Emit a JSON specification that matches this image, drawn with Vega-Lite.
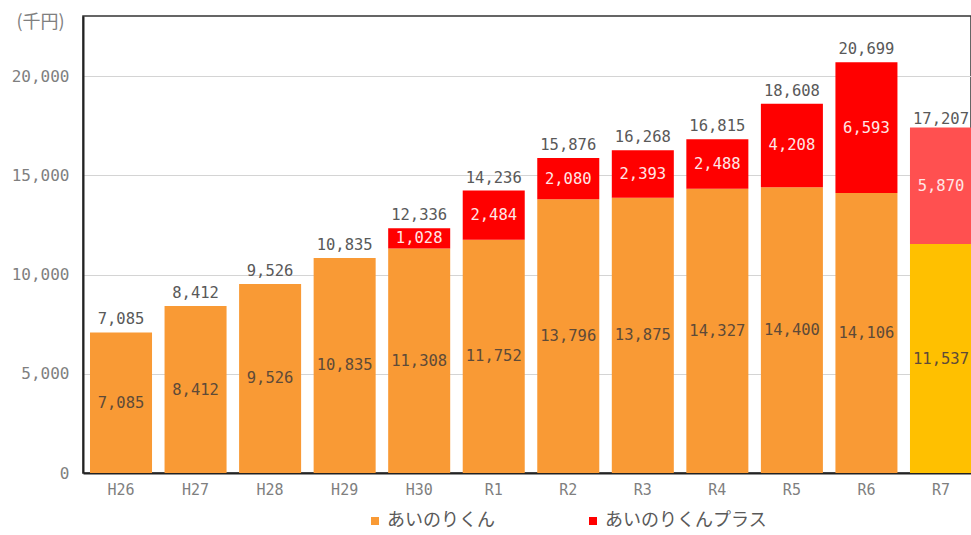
{
  "$schema": "https://vega.github.io/schema/vega-lite/v6.json",
  "width": 888,
  "height": 457,
  "autosize": {"type": "none"},
  "padding": {"left": 83, "top": 16, "right": 0, "bottom": 62},
  "background": "#ffffff",
  "view": {"stroke": "#333333", "strokeWidth": 1.5},
  "datasets": {
    "seg": [
      {"year": "H26", "series": "あいのりくん", "shade": "あいのりくん", "o": 1, "value": 7085},
      {"year": "H27", "series": "あいのりくん", "shade": "あいのりくん", "o": 1, "value": 8412},
      {"year": "H28", "series": "あいのりくん", "shade": "あいのりくん", "o": 1, "value": 9526},
      {"year": "H29", "series": "あいのりくん", "shade": "あいのりくん", "o": 1, "value": 10835},
      {"year": "H30", "series": "あいのりくん", "shade": "あいのりくん", "o": 1, "value": 11308},
      {"year": "H30", "series": "あいのりくんプラス", "shade": "あいのりくんプラス", "o": 2, "value": 1028},
      {"year": "R1", "series": "あいのりくん", "shade": "あいのりくん", "o": 1, "value": 11752},
      {"year": "R1", "series": "あいのりくんプラス", "shade": "あいのりくんプラス", "o": 2, "value": 2484},
      {"year": "R2", "series": "あいのりくん", "shade": "あいのりくん", "o": 1, "value": 13796},
      {"year": "R2", "series": "あいのりくんプラス", "shade": "あいのりくんプラス", "o": 2, "value": 2080},
      {"year": "R3", "series": "あいのりくん", "shade": "あいのりくん", "o": 1, "value": 13875},
      {"year": "R3", "series": "あいのりくんプラス", "shade": "あいのりくんプラス", "o": 2, "value": 2393},
      {"year": "R4", "series": "あいのりくん", "shade": "あいのりくん", "o": 1, "value": 14327},
      {"year": "R4", "series": "あいのりくんプラス", "shade": "あいのりくんプラス", "o": 2, "value": 2488},
      {"year": "R5", "series": "あいのりくん", "shade": "あいのりくん", "o": 1, "value": 14400},
      {"year": "R5", "series": "あいのりくんプラス", "shade": "あいのりくんプラス", "o": 2, "value": 4208},
      {"year": "R6", "series": "あいのりくん", "shade": "あいのりくん", "o": 1, "value": 14106},
      {"year": "R6", "series": "あいのりくんプラス", "shade": "あいのりくんプラス", "o": 2, "value": 6593},
      {"year": "R7", "series": "あいのりくん", "shade": "R7あいのりくん", "o": 1, "value": 11537},
      {"year": "R7", "series": "あいのりくんプラス", "shade": "R7あいのりくんプラス", "o": 2, "value": 5870}
    ],
    "tot": [
      {"year": "H26", "total": 7085},
      {"year": "H27", "total": 8412},
      {"year": "H28", "total": 9526},
      {"year": "H29", "total": 10835},
      {"year": "H30", "total": 12336},
      {"year": "R1", "total": 14236},
      {"year": "R2", "total": 15876},
      {"year": "R3", "total": 16268},
      {"year": "R4", "total": 16815},
      {"year": "R5", "total": 18608},
      {"year": "R6", "total": 20699},
      {"year": "R7", "total": 17207}
    ]
  },
  "encoding": {
    "x": {
      "field": "year",
      "type": "ordinal",
      "sort": ["H26","H27","H28","H29","H30","R1","R2","R3","R4","R5","R6","R7"],
      "scale": {"domain": ["H26","H27","H28","H29","H30","R1","R2","R3","R4","R5","R6","R7"], "range": [0, 896], "paddingInner": 0.168, "paddingOuter": 0.094},
      "axis": {
        "title": null,
        "labelAngle": 0,
        "ticks": false,
        "labelPadding": 9,
        "labelFont": "DejaVu Sans Mono",
        "labelFontSize": 15,
        "labelColor": "#7f7f7f",
        "domainColor": "#222222",
        "domainWidth": 2,
        "grid": false
      }
    }
  },
  "layer": [
    {
      "data": {"name": "seg"},
      "mark": {"type": "bar", "clip": true},
      "encoding": {
        "y": {
          "field": "value",
          "type": "quantitative",
          "stack": "zero",
          "scale": {"domain": [0, 23030], "nice": false, "zero": true},
          "axis": {
            "title": "(千円)",
            "titleAngle": 0,
            "titleX": -43,
            "titleY": 6,
            "titleAlign": "center",
            "titleBaseline": "middle",
            "titleFont": "Noto Sans CJK JP",
            "titleFontSize": 18,
            "titleFontWeight": "normal",
            "titleColor": "#7f7f7f",
            "values": [0, 5000, 10000, 15000, 20000],
            "format": ",d",
            "ticks": false,
            "labelPadding": 14,
            "labelFont": "DejaVu Sans Mono",
            "labelFontSize": 16,
            "labelColor": "#7f7f7f",
            "domainColor": "#222222",
            "domainWidth": 2,
            "grid": true,
            "gridColor": "#d4d4d4",
            "gridWidth": 1
          }
        },
        "color": {
          "field": "shade",
          "type": "nominal",
          "scale": {
            "domain": ["あいのりくん", "あいのりくんプラス", "R7あいのりくん", "R7あいのりくんプラス"],
            "range": ["#F99A35", "#FF0000", "#FFC000", "#FF5050"]
          },
          "legend": {
            "values": ["あいのりくん", "あいのりくんプラス"],
            "title": null,
            "orient": "none",
            "direction": "horizontal",
            "legendX": 283,
            "legendY": 496,
            "padding": 0,
            "symbolType": "square",
            "symbolSize": 64,
            "symbolStrokeWidth": 0,
            "labelFont": "Noto Sans CJK JP",
            "labelFontSize": 18,
            "labelColor": "#595959",
            "labelOffset": 3,
            "labelLimit": 300,
            "columnPadding": 89
          }
        },
        "order": {"field": "o", "type": "quantitative"}
      }
    },
    {
      "data": {"name": "seg"},
      "transform": [
        {"stack": "value", "groupby": ["year"], "sort": [{"field": "o"}], "as": ["v0", "v1"]},
        {"calculate": "(datum.v0 + datum.v1) / 2", "as": "mid"}
      ],
      "mark": {"type": "text", "font": "DejaVu Sans Mono", "fontSize": 15.5, "baseline": "middle", "align": "center"},
      "encoding": {
        "y": {"field": "mid", "type": "quantitative"},
        "text": {"field": "value", "type": "quantitative", "format": ",d"},
        "color": {
          "condition": {"test": "datum.o === 2", "value": "#ffe6e6"},
          "value": "#5e4a38"
        }
      }
    },
    {
      "data": {"name": "tot"},
      "mark": {"type": "text", "font": "DejaVu Sans Mono", "fontSize": 15.5, "baseline": "bottom", "align": "center", "dy": -5, "color": "#595959"},
      "encoding": {
        "y": {"field": "total", "type": "quantitative"},
        "text": {"field": "total", "type": "quantitative", "format": ",d"}
      }
    }
  ]
}
